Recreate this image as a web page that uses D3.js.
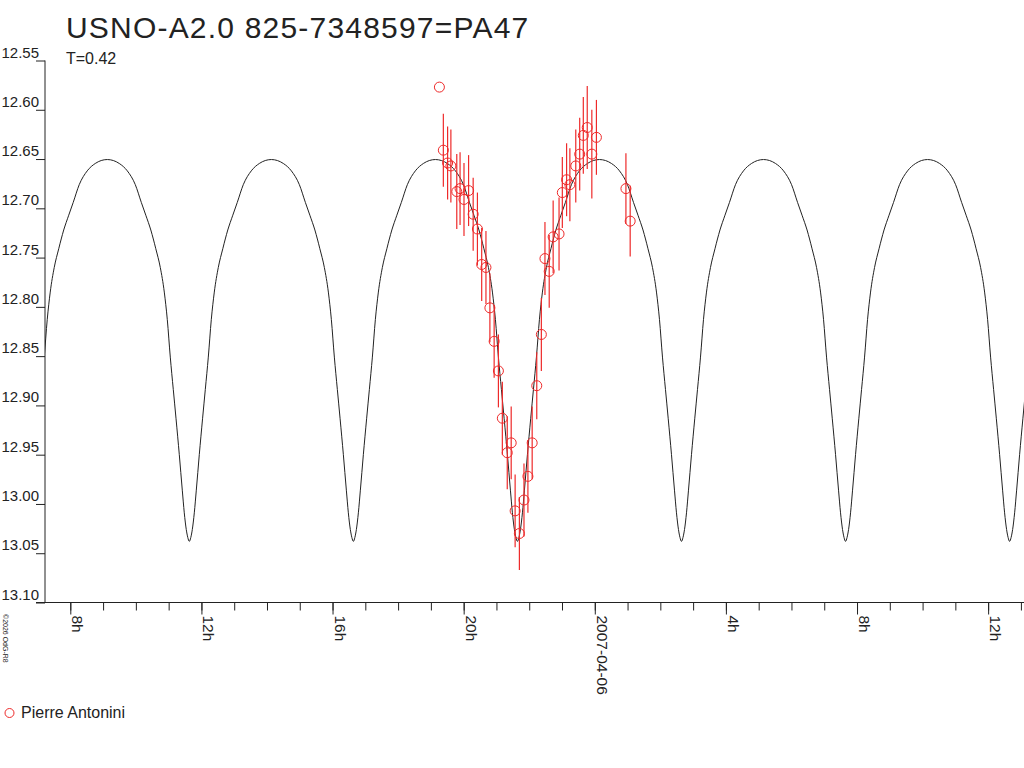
<!DOCTYPE html>
<meta charset="utf-8">
<script src="https://d3js.org/d3.v7.min.js"></script>
<style>
  body { margin: 0; background: #fff; }
  text { font-family: "Liberation Sans", Arial, sans-serif; fill: #222; }
</style>
<div id="chart"></div>
<script>
// observations (hours from 2007-04-05 00:00 UT, magnitude, error)
var obsHour = [19.26, 19.38, 19.51, 19.61, 19.79, 19.89, 20.01, 20.15, 20.29, 20.42,
               20.55, 20.68, 20.80, 20.93, 21.06, 21.18, 21.33, 21.45, 21.57, 21.70,
               21.84, 21.96, 22.09, 22.23, 22.37, 22.48, 22.61, 22.73, 22.91, 23.01,
               23.14, 23.24, 23.42, 23.54, 23.65, 23.77, 23.91, 24.05, 24.95, 25.08];
var obsMag = [12.577, 12.641, 12.654, 12.657, 12.683, 12.680, 12.691, 12.682, 12.706, 12.721,
              12.757, 12.760, 12.801, 12.835, 12.865, 12.913, 12.948, 12.938, 13.007, 13.030,
              12.996, 12.972, 12.938, 12.880, 12.828, 12.751, 12.764, 12.729, 12.726, 12.684,
              12.671, 12.676, 12.657, 12.645, 12.626, 12.618, 12.645, 12.628, 12.680, 12.713];
var obsErr = [0, 0.037, 0.037, 0.037, 0.038, 0.037, 0.037, 0.036, 0.037, 0.037,
              0.037, 0.037, 0.035, 0.037, 0.037, 0.037, 0.037, 0.037, 0.037, 0.037,
              0.037, 0.037, 0.037, 0.034, 0.037, 0.037, 0.037, 0.037, 0.037, 0.036,
              0.037, 0.037, 0.037, 0.037, 0.039, 0.042, 0.045, 0.038, 0.036, 0.036];

// model light curve: half cycle (hours from minimum, mag)
var modelOffset = [0, 0.046, 0.092, 0.153, 0.214, 0.305, 0.406, 0.488, 0.580, 0.671,
                   0.763, 0.885, 1.022, 1.174, 1.327, 1.464, 1.647, 1.891, 2.136, 2.318, 2.50];
var modelMag = [13.038, 13.034, 13.026, 13.009, 12.986, 12.950, 12.913, 12.884, 12.851, 12.813,
                12.785, 12.760, 12.741, 12.722, 12.707, 12.694, 12.676, 12.662, 12.6545, 12.6515, 12.6505];
var modelMinHour = 11.63, modelPeriod = 5.005;
var modelCycles = [-1, 0, 1, 2, 3, 4, 5];

var yTicks = [12.55, 12.60, 12.65, 12.70, 12.75, 12.80, 12.85, 12.90, 12.95, 13.00, 13.05, 13.10];
var minorHours = d3.range(8, 38);
var majorHours = [8, 12, 16, 20, 24, 28, 32, 36];
var majorLabels = ["8h", "12h", "16h", "20h", "2007-04-06", "4h", "8h", "12h"];

var red = "#ee2a2a";

var svg = d3.select("#chart").append("svg")
    .attr("width", 1024).attr("height", 768);

var x = d3.scaleLinear().domain([7.228, 37.094]).range([45, 1024]);
var y = d3.scaleLinear().domain([12.55, 13.10]).range([60.5, 602.5]);

// title
svg.append("text").attr("x", 66).attr("y", 38)
    .style("font-size", "30px").style("letter-spacing", "1.2px")
    .text("USNO-A2.0 825-7348597=PA47");
svg.append("text").attr("x", 66).attr("y", 64)
    .style("font-size", "16px").text("T=0.42");

// y axis
var yAxis = svg.append("g")
    .attr("transform", "translate(45,0)")
    .call(d3.axisLeft(y).tickValues(yTicks).tickSize(9).tickFormat(d3.format(".2f")));
yAxis.select(".domain").attr("d", "M0," + y(12.55) + "V" + y(13.10)).attr("stroke", "#222");
yAxis.selectAll(".tick line").attr("stroke", "#222");
yAxis.selectAll(".tick text")
    .attr("x", -6).attr("dy", -3.5)
    .style("font-size", "15px").style("font-family", "Liberation Sans, Arial, sans-serif").attr("fill", "#222");

// x axis
svg.append("line")
    .attr("x1", 36).attr("x2", 1024).attr("y1", y(13.10)).attr("y2", y(13.10))
    .attr("stroke", "#222");
var xMinor = svg.append("g")
    .attr("transform", "translate(0," + y(13.10) + ")")
    .call(d3.axisBottom(x).tickValues(minorHours).tickSize(8).tickFormat(""));
xMinor.select(".domain").remove();
xMinor.selectAll(".tick line").attr("stroke", "#222");

var xMajor = svg.append("g")
    .attr("transform", "translate(0," + y(13.10) + ")")
    .call(d3.axisBottom(x).tickValues(majorHours).tickSize(12)
        .tickFormat(function(d, i) { return majorLabels[i]; }));
xMajor.select(".domain").remove();
xMajor.selectAll(".tick line").attr("stroke", "#222");
xMajor.selectAll(".tick text")
    .attr("y", 0).attr("dy", null)
    .attr("transform", "translate(1.5,13) rotate(90)")
    .attr("text-anchor", "start")
    .style("font-size", "15.5px").style("font-family", "Liberation Sans, Arial, sans-serif").attr("fill", "#222");

// copyright
svg.append("text")
    .attr("transform", "translate(3,614) rotate(90)")
    .style("font-size", "7px").text("©2026 OdG-R8");

// model curve, repeated each cycle
var curvePts = [];
modelCycles.forEach(function(k) {
    var t0 = modelMinHour + k * modelPeriod;
    modelOffset.forEach(function(o, i) {
        curvePts.push([t0 - o, modelMag[i]]);
        if (o > 0) curvePts.push([t0 + o, modelMag[i]]);
    });
});
curvePts.sort(function(a, b) { return a[0] - b[0]; });

svg.append("clipPath").attr("id", "plotclip")
    .append("rect").attr("x", 45).attr("y", 0).attr("width", 979).attr("height", 602);

svg.append("path")
    .datum(curvePts)
    .attr("clip-path", "url(#plotclip)")
    .attr("fill", "none")
    .attr("stroke", "#222")
    .attr("stroke-width", 1)
    .attr("d", d3.line()
        .x(function(d) { return x(d[0]); })
        .y(function(d) { return y(d[1]); })
        .curve(d3.curveMonotoneX));

// observations
var obs = obsHour.map(function(h, i) { return { h: h, m: obsMag[i], e: obsErr[i] }; });

svg.selectAll(".err")
    .data(obs.filter(function(d) { return d.e > 0; }))
    .enter().append("line")
    .attr("class", "err")
    .attr("x1", function(d) { return x(d.h); })
    .attr("x2", function(d) { return x(d.h); })
    .attr("y1", function(d) { return y(d.m - d.e); })
    .attr("y2", function(d) { return y(d.m + d.e); })
    .attr("stroke", red)
    .attr("stroke-width", 1.2);

svg.selectAll(".obs")
    .data(obs)
    .enter().append("circle")
    .attr("class", "obs")
    .attr("cx", function(d) { return x(d.h); })
    .attr("cy", function(d) { return y(d.m); })
    .attr("r", 5)
    .attr("fill", "none")
    .attr("stroke", red)
    .attr("stroke-width", 1);

// legend
svg.append("circle")
    .attr("cx", 9.5).attr("cy", 713).attr("r", 4.5)
    .attr("fill", "none").attr("stroke", red);
svg.append("text").attr("x", 21).attr("y", 718)
    .style("font-size", "16px").text("Pierre Antonini");
</script>
